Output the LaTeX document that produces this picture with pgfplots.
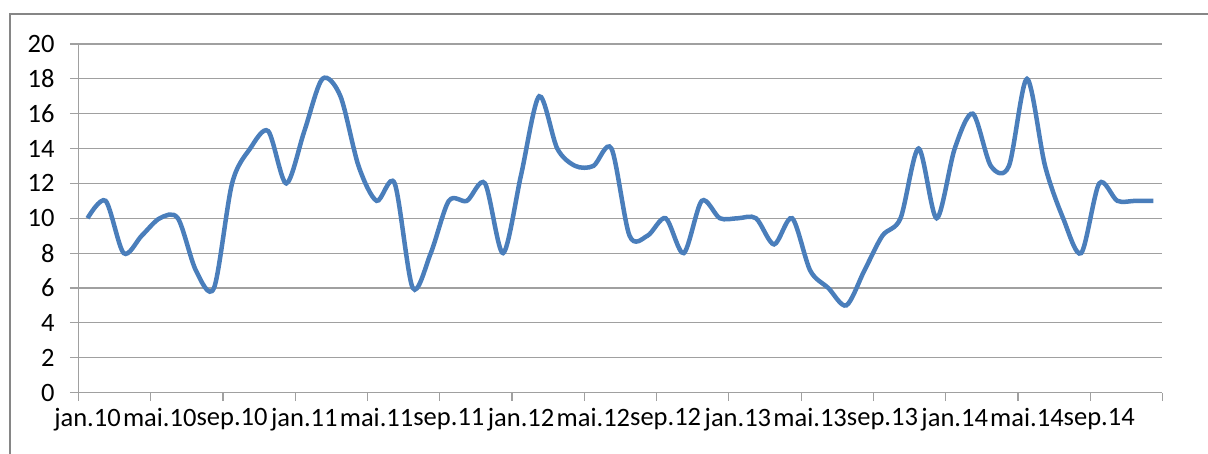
\documentclass[border=0pt]{standalone}
\usepackage{fontspec}
\setmainfont{Carlito}
\usepackage{pgfplots}
\pgfplotsset{compat=1.18}
\definecolor{serie}{HTML}{4A7EBB}
\definecolor{gridc}{HTML}{A0A0A0}
\definecolor{borderc}{HTML}{868686}
\begin{document}
\begin{tikzpicture}
\useasboundingbox (0,0) rectangle (1208pt,453pt);
\draw[borderc, line width=2pt] (10pt,-30pt) -- (10pt,439pt) -- (1240pt,439pt);
\begin{axis}[
  at={(78.5pt,60.5pt)}, anchor=south west,
  scale only axis, width=1084pt, height=348.5pt,
  xmin=0, xmax=60, ymin=0, ymax=20,
  axis x line=bottom, axis y line=left,
  axis line style={-, draw=gridc, line width=1.2pt},
  ytick={0,2,...,20},
  ymajorgrids, grid style={draw=gridc, line width=1.2pt},
  xtick={0,4,...,60}, xticklabels={},
  extra x ticks={0.5,4.5,...,56.5},
  extra x tick labels={jan.10,mai.10,sep.10,jan.11,mai.11,sep.11,jan.12,mai.12,sep.12,jan.13,mai.13,sep.13,jan.14,mai.14,sep.14},
  extra x tick style={major tick length=0pt, xticklabel style={yshift=-12pt}},
  tick align=outside, major tick length=8.5pt,
  tick style={draw=gridc, line width=1.2pt},
  /pgf/number format/assume math mode=true,
  ticklabel style={font=\fontsize{26.5}{30}\selectfont, text=black},
  yticklabel style={anchor=east, xshift=-12pt},
  clip=false,
]
\addplot[serie, line width=4.5pt, smooth, tension=0.5] coordinates {
(0.5,10) (1.5,11) (2.5,8) (3.5,9) (4.5,10) (5.5,10) (6.5,7) (7.5,6)
(8.5,12) (9.5,14) (10.5,15) (11.5,12) (12.5,15) (13.5,18) (14.5,17) (15.5,13)
(16.5,11) (17.5,12) (18.5,6) (19.5,8) (20.5,11) (21.5,11) (22.5,12) (23.5,8)
(24.5,12.5) (25.5,17) (26.5,14) (27.5,13) (28.5,13) (29.5,14) (30.5,9) (31.5,9)
(32.5,10) (33.5,8) (34.5,11) (35.5,10) (36.5,10) (37.5,10) (38.5,8.5) (39.5,10)
(40.5,7) (41.5,6) (42.5,5) (43.5,7) (44.5,9) (45.5,10) (46.5,14) (47.5,10)
(48.5,14) (49.5,16) (50.5,13) (51.5,13) (52.5,18) (53.5,13) (54.5,10) (55.5,8)
(56.5,12) (57.5,11) (58.5,11) (59.5,11)
};
\end{axis}
\end{tikzpicture}
\end{document}
